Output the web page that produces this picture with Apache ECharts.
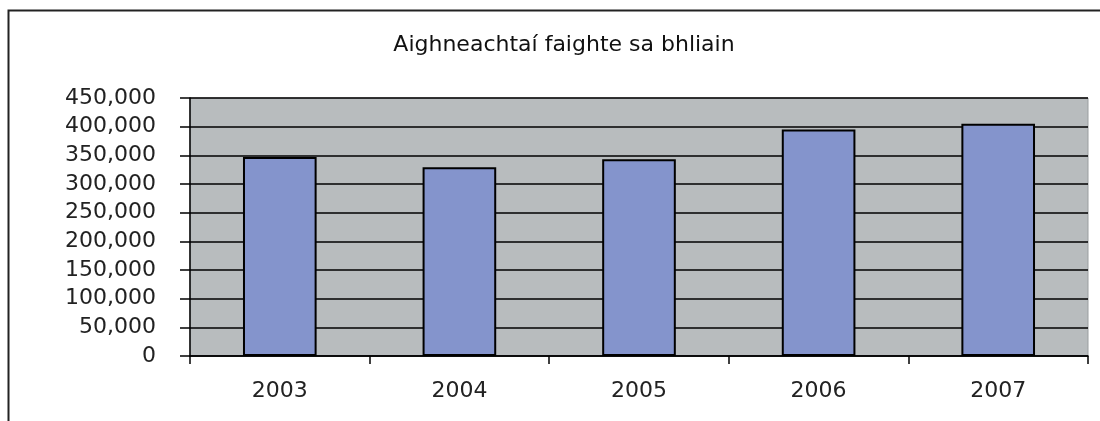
<!DOCTYPE html>
<html>
<head>
<meta charset="utf-8">
<script src="https://cdn.jsdelivr.net/npm/echarts@6/dist/echarts.min.js"></script>
<style>
  html, body { margin: 0; padding: 0; background: #fff; }
  #chart { width: 1100px; height: 421px; }
</style>
</head>
<body>
<div id="chart"></div>
<script>
// data
var titleText = "Aighneachtaí faighte sa bhliain";
var years = ["2003", "2004", "2005", "2006", "2007"];
var submissions = [347000, 329000, 343000, 395000, 405000];

var yMin = 0;
var yMax = 450000;
var yStep = 50000;

var myChart = echarts.init(document.getElementById("chart"));

var opt = {
  animation: false,
  backgroundColor: "#fff",
  title: {
    text: titleText,
    left: 559,
    textAlign: "center",
    top: 29,
    textStyle: {
      fontFamily: "DejaVu Sans",
      fontSize: 22,
      fontWeight: "normal",
      color: "#111"
    }
  },
  graphic: [
    {
      // outer chart frame, only the left and top edges are in the picture
      type: "polyline",
      z: 100,
      shape: { points: [[8.5, 440], [8.5, 10.5], [1120, 10.5]] },
      style: { fill: null, stroke: "#222", lineWidth: 2 }
    }
  ],
  grid: {
    left: 190,
    right: 12,
    top: 98,
    bottom: 65,
    show: true,
    backgroundColor: "#b8bcbe",
    borderColor: "#9a9ea0",
    borderWidth: 1
  },
  xAxis: {
    type: "category",
    data: years,
    boundaryGap: true,
    axisLine: { lineStyle: { color: "#000", width: 1.5 } },
    axisTick: { show: true, alignWithLabel: false, length: 8, lineStyle: { color: "#000", width: 1.5 } },
    axisLabel: {
      margin: 24,
      fontFamily: "DejaVu Sans",
      fontSize: 22,
      color: "#222"
    },
    splitLine: { show: false }
  },
  yAxis: {
    type: "value",
    min: yMin,
    max: yMax,
    interval: yStep,
    axisLine: { show: true, lineStyle: { color: "#000", width: 1.5 } },
    axisTick: { show: true, length: 10, lineStyle: { color: "#000", width: 1.5 } },
    axisLabel: {
      margin: 34,
      fontFamily: "DejaVu Sans",
      fontSize: 22,
      color: "#222",
      formatter: function (v) {
        return v.toLocaleString("en-US");
      }
    },
    splitLine: { show: true, lineStyle: { color: "#000", width: 1.5 } }
  },
  series: [
    {
      name: "Aighneachtaí",
      type: "bar",
      data: submissions,
      barWidth: "41%",
      itemStyle: {
        color: "#8494cc",
        borderColor: "#000",
        borderWidth: 2
      }
    }
  ]
};

myChart.setOption(opt);
</script>
</body>
</html>
